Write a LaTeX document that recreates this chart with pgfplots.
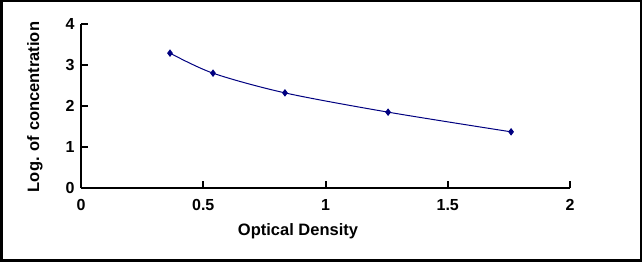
\documentclass[border=0pt]{standalone}
\usepackage{pgfplots}
\pgfplotsset{compat=1.18}
\usepackage{fontspec}
\setmainfont{Liberation Sans}
\definecolor{navyc}{RGB}{0,0,128}
\begin{document}
\begin{tikzpicture}[x=1pt,y=1pt]
\useasboundingbox (0,0) rectangle (642,262);
\draw[line width=2.5pt] (1.25,1.25) rectangle (640.75,260.75);
\begin{axis}[at={(81pt,74pt)}, anchor=south west,
  scale only axis, width=489pt, height=164pt,
  xmin=0, xmax=2, ymin=0, ymax=4,
  axis x line*=bottom, axis y line*=left,
  xtick={0,0.5,1,1.5,2}, ytick={0,1,2,3,4},
  tick align=inside, major tick length=7pt,
  tick style={line width=2pt, black},
  axis line style={line width=2pt},
  /pgf/number format/assume math mode=true,
  ticklabel style={font=\fontsize{16}{18}\selectfont\bfseries},
  xticklabel style={yshift=-8pt},
  yticklabel style={xshift=-3pt},
  clip=false]
\addplot[color=navyc, line width=1pt, smooth, mark=diamond*, mark size=3pt, mark options={fill=navyc}]
  coordinates {(0.364,3.29) (0.54,2.80) (0.834,2.32) (1.256,1.85) (1.759,1.37)};
\end{axis}
\node[rotate=90, font=\fontsize{16.5}{18}\selectfont\bfseries] at (35,155) {Log. of concentration};
\node[font=\fontsize{16.5}{18}\selectfont\bfseries] at (298,31) {Optical Density};
\end{tikzpicture}
\end{document}
